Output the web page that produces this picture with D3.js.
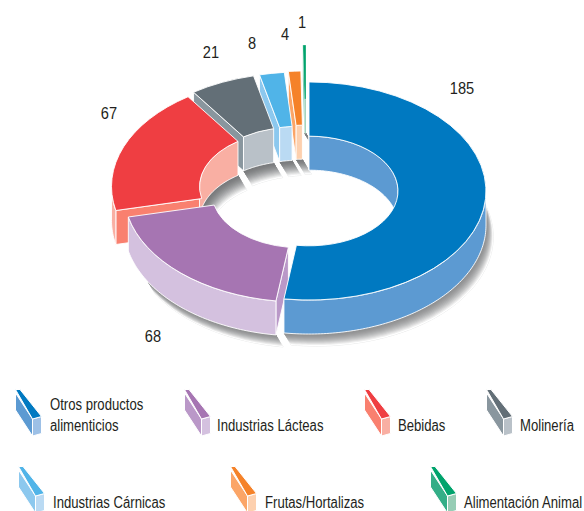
<!DOCTYPE html>
<html>
<head>
<meta charset="utf-8">
<style>
  html, body { margin: 0; padding: 0; background: #fff; overflow: hidden; }
  text { font-family: "Liberation Sans", Arial, sans-serif; fill: #231f20; }
</style>
</head>
<body>
<div id="chart"></div>
<script src="https://cdn.jsdelivr.net/npm/d3@7"></script>
<script>
// Data
const categories = ["Otros productos alimenticios", "Industrias Lácteas", "Bebidas", "Molinería",
  "Industrias Cárnicas", "Frutas/Hortalizas", "Alimentación Animal"];
const values = [185, 68, 67, 21, 8, 4, 1];

// Colours per slice: top face, wall, cut face
const topColors = ["#0079c1", "#a675b2", "#ef3e42", "#636f77", "#50b4e8", "#f58229", "#00a36c"];
const wallColors = ["#5c9ad2", "#d4c1df", "#f9afa3", "#b9c1c8", "#badaf3", "#fdd0ae", "#96cdb5"];
const capColors = ["#5c9ad2", "#ba98c8", "#f9806f", "#89969e", "#8cc8ee", "#fba567", "#33ae87"];
const swatchFronts = ["#9dc0e6", "#d4c1df", "#f9afa3", "#b9c1c8", "#badaf3", "#fdd0ae", "#96cdb5"];

// Centre of each pulled-out slice
const sliceCenters = [[309, 191], [301, 193], [288.5, 186.5], [294, 182], [300, 181], [304, 180], [306, 154]];
// Painter's order, back to front
const drawOrder = [6, 5, 4, 3, 2, 1, 0];

// Value labels
const labelPos = [[462, 94], [153, 342], [109, 119], [211, 58], [252, 49], [285, 40], [302, 28]];

// Legend: swatch corner, text x, text lines with baselines
const legendPos = [[15, 389], [184, 389], [364, 389], [486, 389], [18, 466], [230, 466], [430, 466]];
const legendText = [
  { x: 50, lines: [["Otros productos", 410], ["alimenticios", 431]] },
  { x: 217, lines: [["Industrias Lácteas", 431]] },
  { x: 398, lines: [["Bebidas", 431]] },
  { x: 520, lines: [["Molinería", 431]] },
  { x: 53, lines: [["Industrias Cárnicas", 508]] },
  { x: 265, lines: [["Frutas/Hortalizas", 508]] },
  { x: 464, lines: [["Alimentación Animal", 508]] }
];

const width = 584, height = 511;
const rOuter = 177, rInner = 89, tilt = 0.616, depth = 34;

const svg = d3.select("#chart").append("svg")
  .attr("width", width)
  .attr("height", height)
  .style("display", "block");

const slices = d3.pie().sort(null).startAngle(0).endAngle(2 * Math.PI)(values);
const arc = d3.arc().innerRadius(rInner).outerRadius(rOuter);
const line = d3.line();
const deg = Math.PI / 180;

// angle -> screen point on the tilted ring
function pt(c, a, r, dz = 0, dx = 0) {
  return [c[0] + dx + r * Math.sin(a), c[1] + dz - r * tilt * Math.cos(a)];
}
function steps(a0, a1) {
  const n = Math.max(2, Math.ceil((a1 - a0) / deg));
  return d3.range(n + 1).map(i => a0 + (a1 - a0) * i / n);
}
function wall(c, a0, a1, r) {
  const as = steps(a0, a1);
  return line(as.map(a => pt(c, a, r)).concat(as.slice().reverse().map(a => pt(c, a, r, depth)))) + "Z";
}
// Shadow band: the bottom edge of a wall dragged down and to the right
function shadowBand(c, a0, a1, r, k, lean) {
  const as = steps(a0, a1);
  return line(as.map(a => pt(c, a, r, depth)).concat(as.slice().reverse().map(a => pt(c, a, r, depth + k, k * lean)))) + "Z";
}

const shadowG = svg.append("g");
const outerShade = d3.interpolateRgb("#8f9091", "#ffffff");
const innerShade = d3.interpolateRgb("#77797b", "#ffffff");

function drawShadow(c, a0, a1, r, size, lean, shade) {
  if (a1 <= a0) return;
  // faint rim first, then darker bands towards the wall
  shadowG.append("path").attr("d", shadowBand(c, a0, a1, r, size, lean))
    .attr("fill", "#fff").attr("stroke", "#e3e4e5").attr("stroke-width", 0.8);
  d3.range(size, 0, -1).forEach(k => {
    shadowG.append("path").attr("d", shadowBand(c, a0, a1, r, k, lean)).attr("fill", shade(Math.pow(k / size, 1.8)));
  });
}

drawOrder.forEach(i => {
  const s = slices[i], c = sliceCenters[i];
  // outer shadow on the front half
  drawShadow(c, Math.max(s.startAngle, 70 * deg), Math.min(s.endAngle, 240 * deg), rOuter, 12, 0.6, outerShade);
  // inner shadow on the back half of the hole
  drawShadow(c, Math.max(s.startAngle, 270 * deg), s.endAngle, rInner, 15, 0.6, innerShade);
});

// Slices
const ringG = svg.append("g");
drawOrder.forEach(i => {
  const s = slices[i], c = sliceCenters[i];
  const g = ringG.append("g")
    .attr("stroke", "#fff")
    .attr("stroke-width", i === 6 ? 0.3 : 0.9)
    .attr("stroke-linejoin", "round");
  const a = s.startAngle;
  // cut face at the start of the slice
  g.append("path")
    .attr("d", line([pt(c, a, rInner), pt(c, a, rOuter), pt(c, a, rOuter, depth), pt(c, a, rInner, depth)]) + "Z")
    .attr("fill", capColors[i]);
  // inner wall shows on the back half only, outer wall on the front half only
  [[s.startAngle, Math.min(s.endAngle, 90 * deg)], [Math.max(s.startAngle, 270 * deg), s.endAngle]].forEach(([a0, a1]) => {
    if (a1 > a0) g.append("path").attr("d", wall(c, a0, a1, rInner)).attr("fill", wallColors[i]);
  });
  const o0 = Math.max(s.startAngle, 90 * deg), o1 = Math.min(s.endAngle, 270 * deg);
  if (o1 > o0) g.append("path").attr("d", wall(c, o0, o1, rOuter)).attr("fill", wallColors[i]);
  g.append("path")
    .attr("transform", `translate(${c[0]},${c[1]}) scale(1,${tilt})`)
    .attr("d", arc(s))
    .attr("fill", topColors[i])
    .attr("vector-effect", "non-scaling-stroke");
});

// Value labels (squeezed, the original face is a narrow one)
svg.append("g").selectAll("text")
  .data(values)
  .enter().append("text")
    .attr("transform", (d, i) => `translate(${labelPos[i][0]},${labelPos[i][1]}) scale(0.86,1)`)
    .attr("text-anchor", "middle")
    .style("font-size", "17px")
    .text(d => d);

// Legend swatches are small prisms
const legendG = svg.append("g");
categories.forEach((name, i) => {
  const [x, y] = legendPos[i];
  const g = legendG.append("g")
    .attr("transform", `translate(${x},${y})`)
    .attr("stroke", "#fff").attr("stroke-width", 1);
  g.append("path").attr("d", "M0.5,4 L17.5,30 V47 L0.5,21 Z").attr("fill", capColors[i]);
  g.append("path").attr("d", "M17.5,30 L26.5,27.5 V44.5 L17.5,47 Z").attr("fill", swatchFronts[i]);
  g.append("path").attr("d", "M0.5,0.5 L5,0.5 L26.5,27.5 L17.5,30 Z").attr("fill", topColors[i]);
});

const legendLabels = svg.append("g");
legendText.forEach(d => {
  d.lines.forEach(([t, y]) => {
    legendLabels.append("text")
      .attr("transform", `translate(${d.x},${y}) scale(0.82,1)`)
      .style("font-size", "16px")
      .text(t);
  });
});
</script>
</body>
</html>
